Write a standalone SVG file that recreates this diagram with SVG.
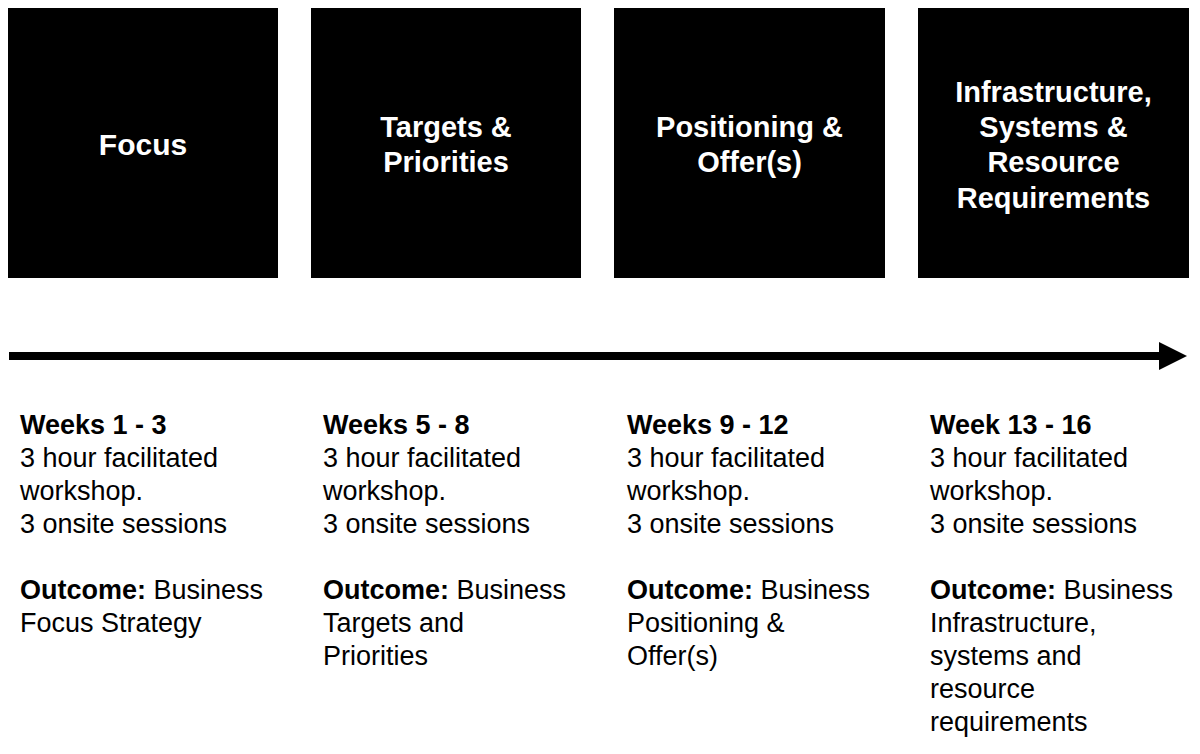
<svg xmlns="http://www.w3.org/2000/svg" width="1200" height="754" viewBox="0 0 1200 754">
<style>
.box{fill:#000}
.title{font-family:"Liberation Sans",Arial,sans-serif;font-weight:bold;font-size:29px;fill:#fff;text-anchor:middle}
.body{font-family:"Liberation Sans",Arial,sans-serif;font-size:27px;fill:#000}
.b{font-weight:bold}
</style>
<rect width="1200" height="754" fill="#fff"/>
<g id="node-focus">
<rect class="box" x="8" y="8" width="270" height="270"/>
<text class="title" x="143" y="155" style="font-size:30px">Focus</text>
</g>
<g id="node-targets">
<rect class="box" x="311" y="8" width="270" height="270"/>
<text class="title" x="446" y="137">Targets &amp;</text>
<text class="title" x="446" y="172">Priorities</text>
</g>
<g id="node-positioning">
<rect class="box" x="614" y="8" width="271" height="270"/>
<text class="title" x="749.5" y="137">Positioning &amp;</text>
<text class="title" x="749.5" y="172">Offer(s)</text>
</g>
<g id="node-infrastructure">
<rect class="box" x="918" y="8" width="271" height="270"/>
<text class="title" x="1053.5" y="102">Infrastructure,</text>
<text class="title" x="1053.5" y="137">Systems &amp;</text>
<text class="title" x="1053.5" y="172">Resource</text>
<text class="title" x="1053.5" y="208">Requirements</text>
</g>
<g id="connectors">
<rect x="9" y="352" width="1152" height="8" fill="#000"/>
<polygon points="1159,342 1187,356 1159,370" fill="#000"/>
</g>
<g id="col1">
<text class="body" x="20" y="434"><tspan class="b">Weeks 1 - 3</tspan><tspan x="20" y="467">3 hour facilitated</tspan><tspan x="20" y="500">workshop.</tspan><tspan x="20" y="533">3 onsite sessions</tspan><tspan x="20" y="599" class="b">Outcome:</tspan><tspan> Business</tspan><tspan x="20" y="632">Focus Strategy</tspan></text>
</g>
<g id="col2">
<text class="body" x="323" y="434"><tspan class="b">Weeks 5 - 8</tspan><tspan x="323" y="467">3 hour facilitated</tspan><tspan x="323" y="500">workshop.</tspan><tspan x="323" y="533">3 onsite sessions</tspan><tspan x="323" y="599" class="b">Outcome:</tspan><tspan> Business</tspan><tspan x="323" y="632">Targets and</tspan><tspan x="323" y="665">Priorities</tspan></text>
</g>
<g id="col3">
<text class="body" x="627" y="434"><tspan class="b">Weeks 9 - 12</tspan><tspan x="627" y="467">3 hour facilitated</tspan><tspan x="627" y="500">workshop.</tspan><tspan x="627" y="533">3 onsite sessions</tspan><tspan x="627" y="599" class="b">Outcome:</tspan><tspan> Business</tspan><tspan x="627" y="632">Positioning &amp;</tspan><tspan x="627" y="665">Offer(s)</tspan></text>
</g>
<g id="col4">
<text class="body" x="930" y="434"><tspan class="b">Week 13 - 16</tspan><tspan x="930" y="467">3 hour facilitated</tspan><tspan x="930" y="500">workshop.</tspan><tspan x="930" y="533">3 onsite sessions</tspan><tspan x="930" y="599" class="b">Outcome:</tspan><tspan> Business</tspan><tspan x="930" y="632">Infrastructure,</tspan><tspan x="930" y="665">systems and</tspan><tspan x="930" y="698">resource</tspan><tspan x="930" y="731">requirements</tspan></text>
</g>
</svg>
